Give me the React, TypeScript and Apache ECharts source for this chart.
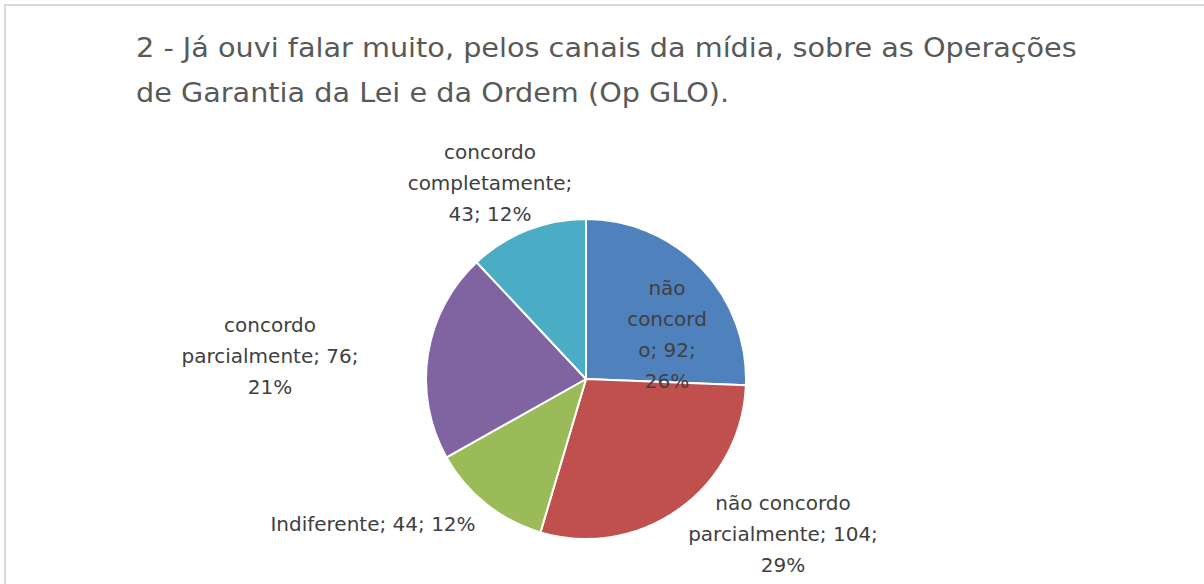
import React, { useEffect, useRef } from "react";
import * as echarts from "echarts";

const titleLines = [
  "2 - Já ouvi falar muito, pelos canais da mídia, sobre as Operações",
  "de Garantia da Lei e da Ordem (Op GLO).",
];
const categories = [
  "não concordo",
  "não concordo parcialmente",
  "Indiferente",
  "concordo parcialmente",
  "concordo completamente",
];
const values = [92, 104, 44, 76, 43];
const percents = ["26%", "29%", "12%", "21%", "12%"];
// label text as wrapped in the original
const labelTexts = [
  "não\nconcord\no; 92;\n26%",
  "não concordo\nparcialmente; 104;\n29%",
  "Indiferente; 44; 12%",
  "concordo\nparcialmente; 76;\n21%",
  "concordo\ncompletamente;\n43; 12%",
];
const colors = ["#4F81BD", "#C0504D", "#9BBB59", "#8064A2", "#4BACC6"];
const labelPos = [
  [667, 334],
  [783, 534],
  [373, 524],
  [270, 356],
  [490, 183],
];

export default function App() {
  const ref = useRef<HTMLDivElement>(null);
  useEffect(() => {
    if (!ref.current) return;
    const chart = echarts.init(ref.current, null, { renderer: "svg" });
    const font = "'DejaVu Sans', sans-serif";
    chart.setOption({
      animation: false,
      backgroundColor: "#ffffff",
      graphic: [
        { type: "rect", shape: { x: 5, y: 5, width: 1300, height: 700 }, style: { fill: "none", stroke: "#d9d9d9", lineWidth: 2 } },
        {
          type: "text",
          x: 136,
          y: 25,
          scaleX: 1.104,
          style: {
            x: 0,
            y: 0,
            text: titleLines.join("\n"),
            font: `26px ${font}`,
            fill: "#595959",
            lineHeight: 45,
            verticalAlign: "top",
          },
        },
      ],
      series: [
        {
          type: "pie",
          center: [586, 379],
          radius: 160,
          startAngle: 90,
          clockwise: true,
          itemStyle: { borderColor: "#ffffff", borderWidth: 2 },
          labelLine: { show: false },
          label: {
            show: true,
            color: "#404040",
            fontFamily: font,
            fontSize: 20,
            lineHeight: 31,
            align: "center",
            formatter: (p: any) => labelTexts[p.dataIndex],
          },
          labelLayout: (p: any) => ({
            x: labelPos[p.dataIndex][0],
            y: labelPos[p.dataIndex][1],
            align: "center",
            verticalAlign: "middle",
          }),
          data: categories.map((c, i) => ({
            name: c,
            value: values[i],
            itemStyle: { color: colors[i] },
          })),
        },
      ],
    });
    return () => chart.dispose();
  }, []);
  return (
    <div
      ref={ref}
      style={{ position: "fixed", left: 0, top: 0, width: 1204, height: 584 }}
    />
  );
}
